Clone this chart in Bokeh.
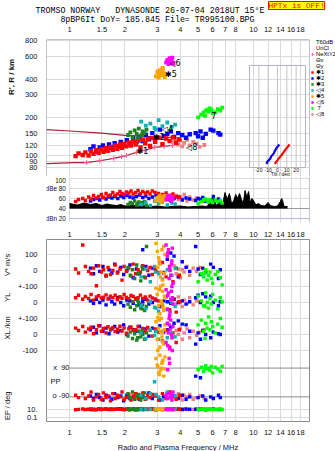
from math import log10

from bokeh.embed import file_html
from bokeh.layouts import column
from bokeh.models import (FixedTicker, Label, Legend, LegendItem, LinearAxis, LinearScale,
                          Range1d, Span, Title)
from bokeh.plotting import figure
from bokeh.resources import INLINE

# ---------------------------------------------------------------- axes / ticks
FREQ_TICKS = [1, 1.5, 2, 3, 4, 5, 6, 7, 8, 10, 12, 14, 16, 18]
RANGE_TICKS = [80, 90, 100, 120, 150, 200, 300, 400, 600, 800]
DB_TICKS = [100, 80, 60, 40, 20]
DB_LABELS = ["100", "dBe 80", "60", "40", "dBn 20"]
TILT_TICKS = [-20, -10, 0, 10, 20]

# ---------------------------------------------------------------- echo traces
# per trace: frequency (MHz), virtual range (km), amplitude (dB),
# Doppler V* (m/s), YL / XL (km), EP (deg), PP
red_f = [1.08, 1.12, 1.18, 1.22, 1.27, 1.31, 1.35, 1.40, 1.44, 1.49,
         1.53, 1.58, 1.62, 1.67, 1.72, 1.77, 1.82, 1.88, 1.93, 1.98,
         2.04, 2.10, 2.16, 2.22, 2.29, 2.36, 2.43, 2.50, 2.58, 2.66,
         2.74, 2.82, 2.92, 3.05, 3.20, 3.35, 3.50, 3.65, 3.80, 3.95]
red_r = [99, 104, 101, 106, 100, 108, 103, 110, 105, 112,
         107, 114, 109, 117, 111, 120, 113, 122, 115, 124,
         118, 127, 120, 129, 122, 131, 116, 133, 125, 135,
         119, 137, 128, 138, 123, 136, 130, 139, 126, 134]
red_db = [54, 58, 60, 56, 63, 59, 66, 61, 64, 68,
          62, 70, 65, 67, 72, 66, 69, 74, 70, 68,
          73, 71, 75, 69, 72, 76, 70, 74, 71, 73,
          69, 75, 72, 70, 68, 71, 66, 69, 64, 62]
red_v = [10, -15, 160, 25, -5, -20, 15, -95, 30, -10,
         5, -30, 20, -25, 0, 35, -15, 10, -60, 25,
         -5, 15, -35, 40, -20, 5, -10, 30, -45, 0,
         20, -25, 10, -15, 50, -40, 25, -70, 15, -30]
red_yl = [30, 45, 20, 38, 25, 50, 15, 35, 42, 28,
          33, 48, 22, 40, 30, 45, 18, 36, 27, 50,
          32, 24, 44, 38, 20, 30, 46, 26, 35, 15,
          40, 28, 22, 10, -20, 35, -45, 20, -60, 5]
red_xl = [40, 25, 50, 15, 35, 45, 5, 30, 55, 20,
          38, 10, 48, 28, 42, 18, 33, 52, 22, 40,
          8, 36, 46, 25, 30, 50, 12, 38, 20, 44,
          28, -10, 35, 15, -40, 25, -80, 10, -50, 30]
red_ep = [-80, -95, -70, -100, -85, -60, -110, -90, -75, -105,
          -65, -95, -85, -115, -70, -100, -80, -90, -60, -105,
          -95, -75, -110, -85, -70, -100, -90, -65, -105, -80,
          -95, -75, -85, -110, -70, -100, -60, -90, -105, -80]
red_pp = [9, 11, 13, 10, 12, 14, 9, 11, 15, 10,
          12, 13, 11, 14, 10, 12, 16, 11, 13, 10,
          12, 15, 11, 14, 9, 13, 12, 10, 15, 11,
          13, 12, 10, 14, 11, 12, 13, 9, 11, 12]

blue_f = [1.30, 1.35, 1.40, 1.46, 1.52, 1.58, 1.64, 1.70, 1.76, 1.83,
          1.90, 1.97, 2.05, 2.13, 2.22, 2.31, 2.40, 2.50, 2.60, 2.70,
          2.82, 2.95, 3.10, 3.25, 3.40, 3.55, 3.70, 3.90, 4.10, 4.30,
          4.50, 4.85, 5.00, 5.15, 5.30, 5.50, 5.85, 6.05, 6.45, 6.60]
blue_r = [112, 118, 108, 116, 120, 111, 122, 115, 125, 118,
          128, 121, 132, 124, 136, 127, 140, 130, 145, 134,
          150, 138, 160, 142, 148, 155, 140, 150, 145, 138,
          147, 150, 142, 155, 138, 148, 160, 157, 150, 146]
blue_db = [55, 58, 60, 57, 62, 59, 63, 61, 64, 60,
           65, 62, 66, 63, 61, 64, 67, 62, 65, 60,
           63, 66, 61, 64, 58, 62, 60, 63, 57, 61,
           59, 56, 60, 58, 62, 55, 57, 64, 59, 54]
blue_v = [15, -20, 30, -5, 25, -35, 5, -15, 40, -10,
          20, -25, 0, 35, -45, 10, -20, 130, 25, -30,
          15, -5, 45, -15, 70, 110, 90, -40, 55, 20,
          -5, 150, 10, -25, 15, -10, 40, 20, -50, 5]
blue_yl = [10, -5, 20, 0, 15, -15, 25, 5, -10, 30,
           0, -20, 15, 10, -5, 25, -15, 5, 20, -10,
           0, 15, -25, 10, 5, -5, 20, 0, 10, -10,
           5, 30, 45, 0, 55, 35, 40, 0, -20, 5]
blue_xl = [30, 45, 10, 55, 20, 40, 5, 35, 50, 15,
           25, 60, 0, 45, 30, 20, 50, 10, 35, -10,
           40, 25, 55, 15, 30, 45, 70, 85, 65, 60,
           20, -60, 10, -30, 25, 0, -20, 15, 5, 0]
blue_ep = [-85, -100, -75, -95, -110, -80, -90, -105, -70, -95,
           -85, -115, -80, -100, -90, -75, -105, -85, -95, -65,
           -100, -80, -110, -90, -70, -95, -85, -100, -80, -105,
           -90, 40, -95, 30, -85, -110, -90, -100, -80, -95]
blue_pp = [10, 12, 9, 13, 11, 14, 10, 12, 11, 13,
           15, 10, 12, 9, 14, 11, 13, 10, 12, 11,
           14, 9, 12, 13, 10, 11, 15, 12, 10, 13,
           11, 12, 10, 14, 11, 9, 12, 13, 10, 11]

green_f = [2.08, 2.14, 2.20, 2.26, 2.32, 2.38, 2.44, 2.50, 2.56, 2.62, 2.35, 2.48]
green_r = [145, 152, 140, 158, 148, 163, 143, 155, 150, 160, 137, 147]
green_db = [48, 52, 50, 55, 47, 53, 49, 51, 54, 46, 50, 52]
green_v = [20, -30, 5, -50, 35, -15, -65, 10, -40, 150, -20, 25]
green_yl = [-10, -30, 5, -45, -20, 0, -35, -15, -50, -25, 10, -40]
green_xl = [-10, 15, -25, 5, -35, 20, -15, 0, -30, 10, -20, 25]
green_ep = [-70, -95, -60, -105, -85, -75, -110, -90, -65, -100, -80, -95]
green_pp = [10, 12, 11, 9, 13, 10, 12, 11, 14, 10, 9, 12]

cyan_f = [2.45, 2.60, 2.75, 2.90, 3.05, 3.20, 3.40, 3.60, 3.75, 2.95]
cyan_r = [185, 172, 178, 165, 190, 170, 182, 168, 175, 160]
cyan_db = [48, 52, 46, 55, 50, 53, 47, 51, 49, 54]
cyan_v = [-40, 10, -70, 25, -20, -55, 5, -30, 15, -10]
cyan_yl = [-20, -40, 5, -30, -55, -10, -45, 0, -25, -35]
cyan_xl = [10, -25, 30, -5, -30, 15, -20, 5, -15, 20]
cyan_ep = [-80, -100, -70, 5, -90, -110, -60, -95, -85, -75]
cyan_pp = [11, 13, 10, 12, 14, 9, 12, 11, 13, 10]

orange_f = [2.95, 3.00, 3.05, 3.10, 3.15, 3.20, 3.25, 3.30, 3.02, 3.12, 3.22, 3.08, 3.18, 3.28]
orange_r = [420, 450, 410, 470, 430, 490, 445, 415, 460, 425, 480, 440, 455, 435]
orange_db = [55, 62, 58, 66, 52, 60, 64, 57, 61, 54, 63, 59, 56, 65]
orange_v = [170, 120, 80, 40, -10, -60, 150, 100, 20, -40, -90, 60, 130, -20]
orange_yl = [90, 50, -20, -70, 10, 70, -50, 30, -95, 100, -30, 80, -5, 40]
orange_xl = [80, -30, 40, -80, 100, 10, -60, 60, -100, 20, -45, 90, -15, 30]
orange_ep = [150, 110, 60, 170, 90, 130, 40, 160, 100, 75, 140, 50, 120, 85]
orange_pp = [12, 10, 14, 11, 13, 9, 12, 15, 10, 13, 11, 12, 14, 10]

magenta_f = [3.35, 3.40, 3.45, 3.50, 3.55, 3.60, 3.65, 3.42, 3.52, 3.62, 3.48, 3.58]
magenta_r = [540, 560, 525, 585, 550, 575, 530, 565, 545, 590, 555, 535]
magenta_db = [58, 63, 60, 66, 55, 62, 59, 64, 57, 61, 65, 56]
magenta_v = [160, 90, 130, 20, -30, 60, -80, 110, 0, 140, -50, 40]
magenta_yl = [80, -40, 60, -80, 20, 100, -10, 45, -60, 30, -100, 70]
magenta_xl = [-50, 70, 10, -90, 90, -20, 50, -70, 30, -100, 60, 0]
magenta_ep = [-80, -100, -70, 120, -90, -110, -60, 80, -95, -85, 150, -75]
magenta_pp = [12, 14, 11, 13, 10, 15, 12, 11, 13, 14, 10, 12]

lime_f = [5.00, 5.20, 5.35, 5.50, 5.60, 5.70, 5.80, 5.90, 6.00, 6.20, 6.40, 6.60, 6.75, 5.45]
lime_r = [200, 210, 218, 225, 230, 222, 235, 228, 215, 220, 232, 226, 238, 205]
lime_db = [50, 54, 57, 59, 56, 53, 58, 55, 52, 57, 54, 56, 51, 58]
lime_v = [-70, -20, -40, 5, -60, -30, -10, -50, -80, -25, -5, -45, -90, -15]
lime_yl = [40, 10, -20, 60, 0, -35, 25, -10, 50, 15, -40, 30, 5, -25]
lime_xl = [60, 90, 20, 70, 40, 110, 30, 80, 50, 10, 65, 100, 45, -25]
lime_ep = [80, 95, 70, 105, 85, 90, 75, 100, 60, 95, 85, 70, 100, 90]
lime_pp = [11, 13, 10, 12, 14, 11, 13, 12, 10, 12, 11, 14, 10, 13]

salmon_f = [3.70, 3.80, 3.90, 4.00, 4.10, 4.20, 4.35, 4.50, 4.70, 4.90, 5.10, 5.40]
salmon_r = [128, 135, 122, 131, 118, 126, 133, 120, 128, 124, 117, 121]
salmon_db = [62, 66, 58, 64, 60, 68, 55, 63, 57, 61, 59, 54]
salmon_v = [30, -20, 10, -45, 5, -10, 25, -30, 15, -5, 20, -15]
salmon_yl = [20, -10, 35, 0, -25, 15, -5, 30, -15, 10, 5, -20]
salmon_xl = [-15, 25, 0, 40, -30, 10, 35, -20, 20, -5, 15, 30]
salmon_ep = [-85, -100, -70, -95, -110, -80, -90, -75, -105, -95, -85, -100]
salmon_pp = [12, 10, 13, 11, 14, 12, 10, 13, 11, 12, 10, 14]

# unclassified noise amplitude (dB)
noise_f = [1.0, 1.1, 1.2, 1.3, 1.4, 1.5, 1.6, 1.7, 1.8, 1.9,
           2.0, 2.2, 2.4, 2.6, 2.8, 3.0, 3.3, 3.6, 4.0, 4.4,
           4.8, 5.2, 5.6, 6.0, 6.3, 6.6, 6.8, 7.0, 7.2, 7.4,
           7.6, 7.8, 8.0, 8.2, 8.4, 8.6, 8.8, 9.0, 9.2, 9.4,
           9.6, 9.8, 10.0, 10.3, 10.6, 11.0, 11.5, 12.0, 12.3, 12.6,
           13.0, 13.5, 14.0, 14.2, 14.4, 14.6, 15.0, 15.3]
noise_db = [50, 47, 51, 48, 50, 46, 49, 47, 46, 48,
            45, 47, 44, 46, 44, 45, 43, 44, 45, 43,
            44, 45, 44, 62, 46, 56, 48, 72, 58, 70,
            50, 55, 68, 60, 70, 58, 50, 76, 62, 74,
            52, 60, 56, 47, 50, 46, 45, 52, 46, 45,
            44, 45, 54, 60, 56, 45, 44, 44]
NOISE_FLOOR = 40

# true-height profile and upper reference curve
prof_f = [0.75, 1.07, 1.24, 1.46, 1.74, 1.92, 2.04, 2.31, 2.57, 2.90, 3.27, 3.63]
prof_h = [86.5, 88, 88, 91, 95, 98, 100, 106, 110, 116, 118, 120]
upper_f = [0.75, 1.0, 1.5, 2.0, 2.5, 3.0, 3.5, 4.0]
upper_h = [160, 156, 150, 144, 142, 140, 139, 138]

# tilt versus height (inset)
tilt_o = [-12, -10.5, -8, -6.5, -4, -2.5, -0.5, 2]
tilt_o_h = [86, 90, 94, 99, 104, 110, 116, 122]
tilt_x = [-3, -1, 1.5, 4, 6, 8, 10.5, 13]
tilt_x_h = [86, 90, 95, 100, 105, 110, 116, 122]

# ---------------------------------------------------------------- styling
SANS = "Liberation Sans"
MONO = "Liberation Mono"
SYM = "DejaVu Sans"
GRID = "#dadada"
BORDER = "#8c8c8c"
TEXT = "#111111"
PROFILE = "#a8203c"
PINK = "#ff5a96"
NB = "\u00a0"

F_LO, F_HI = 0.75, 20.15
# stacked rows of the lower panel (offsets in panel units)
V_ROW, YL_ROW, XL_ROW, EP_ROW, PP_ROW, PP_SCALE = 0, -200, -400, -700, -894, 25

traces = [
    ("✱1", "#ff0000", red_f, red_r, red_db, red_v, red_yl, red_xl, red_ep, red_pp),
    ("✱2", "#0000ff", blue_f, blue_r, blue_db, blue_v, blue_yl, blue_xl, blue_ep, blue_pp),
    ("✱3", "#208020", green_f, green_r, green_db, green_v, green_yl, green_xl, green_ep, green_pp),
    ("◁4", "#10b0b0", cyan_f, cyan_r, cyan_db, cyan_v, cyan_yl, cyan_xl, cyan_ep, cyan_pp),
    ("✱5", "#ffa500", orange_f, orange_r, orange_db, orange_v, orange_yl, orange_xl, orange_ep, orange_pp),
    ("◁6", "#ff00ff", magenta_f, magenta_r, magenta_db, magenta_v, magenta_yl, magenta_xl, magenta_ep, magenta_pp),
    (NB + "7", "#00ff00", lime_f, lime_r, lime_db, lime_v, lime_yl, lime_xl, lime_ep, lime_pp),
    ("◁8", "#f08080", salmon_f, salmon_r, salmon_db, salmon_v, salmon_yl, salmon_xl, salmon_ep, salmon_pp),
]
draw_order = [7, 1, 0, 2, 3, 6, 4, 5]


def style_axis(ax, ticks, labels, size="7.5px"):
    ax.ticker = FixedTicker(ticks=ticks)
    ax.major_label_overrides = {t: s for t, s in zip(ticks, labels)}
    ax.axis_line_color = None
    ax.major_tick_line_color = None
    ax.minor_tick_line_color = None
    ax.major_label_text_font = SANS
    ax.major_label_text_font_size = size
    ax.major_label_text_color = TEXT
    ax.major_label_standoff = 3


def caption(ax, text, size, style, standoff):
    ax.axis_label = text
    ax.axis_label_text_font = SANS
    ax.axis_label_text_font_size = size
    ax.axis_label_text_font_style = style
    ax.axis_label_text_color = TEXT
    ax.axis_label_standoff = standoff


def inner_label(fig, text, x, y, size="7.5px", align="left"):
    fig.add_layout(Label(x=x, y=y, x_units="screen", y_units="screen", text=text,
                         text_color=TEXT, text_font=SANS, text_font_size=size,
                         text_align=align, text_baseline="middle"))


freq_labels = [f"{t:g}" for t in FREQ_TICKS]

# ================================================================ virtual range
fig_a = figure(frame_width=263, frame_height=137, min_border_left=39, min_border_right=33,
               min_border_top=39, min_border_bottom=0, x_axis_type="log", y_axis_type="log",
               x_axis_location="above", x_range=Range1d(F_LO, F_HI), y_range=Range1d(68.4, 819),
               output_backend="svg", toolbar_location=None)
fig_a.outline_line_color = None
style_axis(fig_a.xaxis[0], FREQ_TICKS, freq_labels)
fig_a.xaxis[0].major_label_standoff = 2
style_axis(fig_a.yaxis[0], RANGE_TICKS, [str(t) for t in RANGE_TICKS])
caption(fig_a.yaxis[0], NB * 28 + "R', R / km", "8px", "bold", 6)
fig_a.xgrid.ticker = FixedTicker(ticks=FREQ_TICKS)
fig_a.ygrid.ticker = FixedTicker(ticks=RANGE_TICKS)
for g in (fig_a.xgrid, fig_a.ygrid):
    g.grid_line_color = GRID
for loc, dim in ((F_LO, "height"), (F_HI, "height"), (819, "width")):
    fig_a.add_layout(Span(location=loc, dimension=dim, line_color=BORDER, line_width=1))

# header: station line + sounding line, then the transmitter flag
head = ("TROMSO NORWAY" + NB * 3 + "DYNASONDE 26-07-04 2018UT 15°E\n"
        + NB * 5 + "8pBP6It DoY= 185.845 File= TR995100.BPG")
fig_a.add_layout(Title(text=head, align="left", offset=-11, standoff=0, text_font=MONO,
                       text_font_size="8.3px", text_font_style="normal", text_color="#000000",
                       text_line_height=1.0), "above")
flag_style = dict(text="HPTx is OFF!", align="left", offset=222, text_font=MONO,
                  text_font_size="7.8px", text_font_style="normal", text_color="#ff0000",
                  background_fill_color="#ffff00", border_line_color="#ff0000",
                  text_line_height=1.0)
try:
    flag = Title(standoff=-12, **flag_style)
except Exception:
    flag = Title(standoff=0, **flag_style)
fig_a.add_layout(flag, "above")

# tilt inset sharing the height axis
fig_a.extra_x_ranges = {"tilt": Range1d(-247.5, 34.3)}
fig_a.extra_x_scales = {"tilt": LinearScale()}
INSET_TILT = (-30, 30)
INSET_H = (80.5, 512)
fig_a.segment(x0=TILT_TICKS, y0=INSET_H[0], x1=TILT_TICKS, y1=INSET_H[1],
              x_range_name="tilt", line_color="#c4c4c4", line_width=1)
fig_a.quad(left=[INSET_TILT[0]], right=[INSET_TILT[1]], bottom=[INSET_H[0]], top=[INSET_H[1]],
           x_range_name="tilt", fill_color=None, line_color="#b2b2cc", line_width=1)
fig_a.line(tilt_o, tilt_o_h, x_range_name="tilt", line_color="#0000ff", line_width=2.2)
fig_a.line(tilt_x, tilt_x_h, x_range_name="tilt", line_color="#ff0000", line_width=2.2)
for t in TILT_TICKS:
    fig_a.add_layout(Label(x=t, y=6.5, x_range_name="tilt", y_units="screen", text=f"{t:g}",
                           text_font=SANS, text_font_size="5px", text_color=TEXT,
                           text_align="center", text_baseline="middle"))
fig_a.add_layout(Label(x=3, y=2.8, x_range_name="tilt", y_units="screen", text="Tilt / deg",
                       text_font=SANS, text_font_size="5px", text_color=TEXT,
                       text_align="center", text_baseline="middle"))

# profiles
fig_a.line(upper_f, upper_h, line_color=PROFILE, line_width=1.2)
fig_a.line(prof_f, prof_h, line_color=PROFILE, line_width=1.2)
r_marks = fig_a.scatter(prof_f[2:], prof_h[2:], marker="cross", size=5, line_color=PINK,
                        line_width=1)

trace_renderers = {}
for i in draw_order:
    name, color, f, r = traces[i][:4]
    size = 4.4 if i in (0, 1) else 3.8
    trace_renderers[i] = fig_a.scatter(f, r, marker="square", size=size, fill_color=color,
                                       line_color=None)

# trace tags next to each trace
tags = [(0, 26, 2, -4), (1, 21, 3, 0), (3, 5, 5, -3), (4, 7, 6, 3),
        (5, 6, 2, 0), (6, 8, 1, -2), (7, 7, 2, -2)]
for ti, k, dx, dy in tags:
    name, color, f, r = traces[ti][:4]
    fig_a.add_layout(Label(x=f[k], y=r[k], text=name.strip(NB), x_offset=dx, y_offset=dy,
                           text_font=SYM, text_font_size="8px", text_color="#000000",
                           text_align="center", text_baseline="middle"))

# legend (outside, right of the range panel)
r_t60 = fig_a.line([], [], line_color="#9a9a9a", line_width=1.5)
r_uncl = fig_a.scatter([], [], marker="circle", size=2, fill_color="#000000", line_color=None)
r_nxt = fig_a.line([], [], line_color=PINK, line_width=1)
r_thx = fig_a.line([], [], line_color="#f08080", line_width=1.5)
r_thy = fig_a.line([], [], line_color="#8080ff", line_width=1.5)
items = [LegendItem(label="T60dB", renderers=[r_t60]),
         LegendItem(label="UnCl", renderers=[r_uncl]),
         LegendItem(label="NeXtYZ", renderers=[r_nxt, r_marks]),
         LegendItem(label="Θx", renderers=[r_thx]),
         LegendItem(label="Θy", renderers=[r_thy])]
items += [LegendItem(label=traces[i][0], renderers=[trace_renderers[i]]) for i in range(8)]
legend = Legend(items=items, location="top_left", orientation="vertical",
                label_text_font=SANS, label_text_font_size="5.8px", label_text_color="#000000",
                label_text_line_height=1.0, glyph_width=6, glyph_height=6, label_height=6,
                label_standoff=1, spacing=0, padding=0, margin=0, border_line_color=None,
                background_fill_alpha=0)
fig_a.add_layout(legend, "right")

# ================================================================ amplitude
fig_b = figure(frame_width=263, frame_height=46, min_border_left=39, min_border_right=33,
               min_border_top=0, min_border_bottom=15, x_axis_type="log", y_axis_location=None,
               x_range=Range1d(F_LO, F_HI), y_range=Range1d(12, 104),
               output_backend="svg", toolbar_location=None)
fig_b.outline_line_color = None
style_axis(fig_b.xaxis[0], FREQ_TICKS, freq_labels)
fig_b.xgrid.ticker = FixedTicker(ticks=FREQ_TICKS)
fig_b.xgrid.grid_line_color = GRID
fig_b.ygrid.visible = False
fig_b.segment(x0=1.0, x1=F_HI, y0=[100, 80, 60], y1=[100, 80, 60], line_color=GRID)
fig_b.segment(x0=1.0, x1=F_HI, y0=40, y1=40, line_color="#9a9a9a")
fig_b.segment(x0=1.0, x1=F_HI, y0=20, y1=20, line_color="#b4b8ea")
fig_b.add_layout(Span(location=F_HI, dimension="height", line_color=BORDER, line_width=1))
dbax = LinearAxis(fixed_location=1.03)
style_axis(dbax, DB_TICKS, DB_LABELS, "6.4px")
dbax.major_label_standoff = 0
fig_b.add_layout(dbax, "left")

fig_b.varea(x=noise_f, y1=NOISE_FLOOR, y2=noise_db, fill_color="#000000")
fig_b.line(noise_f, noise_db, line_color="#000000", line_width=1)
for i in draw_order:
    name, color, f, r, db = traces[i][:5]
    fig_b.scatter(f, db, marker="square", size=3.4, fill_color=color, line_color=None)

# ================================================================ Doppler / position / polarisation
fig_c = figure(frame_width=263, frame_height=182, min_border_left=39, min_border_right=33,
               min_border_top=0, min_border_bottom=32, x_axis_type="log",
               x_range=Range1d(F_LO, F_HI), y_range=Range1d(-944, 194),
               output_backend="svg", toolbar_location=None)
fig_c.outline_line_color = BORDER
c_ticks = [100, 0, -100, -200, -300, -400, -500, PP_ROW + PP_SCALE, PP_ROW - PP_SCALE]
c_labels = ["100", "0", "+-100", "0", "+-100", "0", "-100", "10.", "0.1"]
style_axis(fig_c.xaxis[0], FREQ_TICKS, freq_labels)
fig_c.xaxis[0].major_label_standoff = 2
caption(fig_c.xaxis[0], "Radio and Plasma Frequency / MHz", "7.5px", "normal", 5)
style_axis(fig_c.yaxis[0], c_ticks, c_labels)
# row captions, bottom to top: EP, XL, YL, V*
row_caption = ("EP / deg" + NB * 25 + "XL /km" + NB * 7 + "YL" + NB * 8 + "V* m/s" + NB * 6)
caption(fig_c.yaxis[0], row_caption, "7.5px", "normal", 3)
fig_c.xgrid.ticker = FixedTicker(ticks=FREQ_TICKS)
fig_c.ygrid.ticker = FixedTicker(ticks=c_ticks)
for g in (fig_c.xgrid, fig_c.ygrid):
    g.grid_line_color = GRID
fig_c.segment(x0=[1.0, 1.0], x1=[F_HI, F_HI], y0=[EP_ROW + 90, EP_ROW - 90],
              y1=[EP_ROW + 90, EP_ROW - 90], line_color="#8a8a8a", line_width=1)

for i in draw_order:
    name, color, f, r, db, v, yl, xl, ep, pp = traces[i]
    xs = list(f) * 5
    ys = ([a + V_ROW for a in v] + [a + YL_ROW for a in yl] + [a + XL_ROW for a in xl]
          + [a + EP_ROW for a in ep] + [PP_ROW + PP_SCALE * log10(a) for a in pp])
    fig_c.scatter(xs, ys, marker="square", size=3.4, fill_color=color, line_color=None)

inner_label(fig_c, "x" + NB * 2 + "90", 23, 54, align="right")
inner_label(fig_c, "PP", 4, 40)
inner_label(fig_c, "o -90", 23, 26, align="right")

page = column(fig_a, fig_b, fig_c, spacing=0)
open("out.html", "w").write(file_html(page, INLINE))
